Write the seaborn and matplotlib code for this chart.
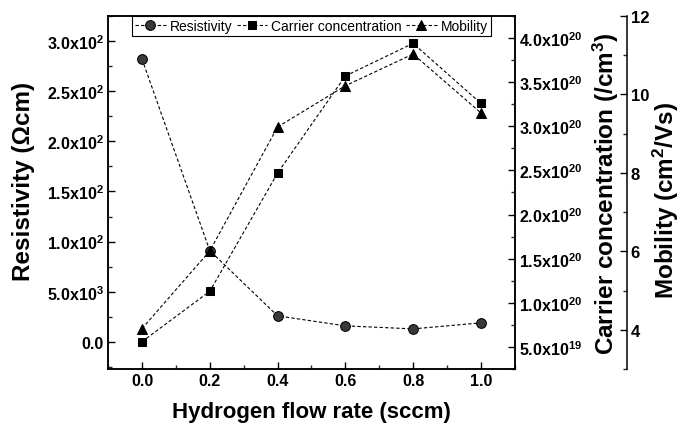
import matplotlib
matplotlib.use("Agg")
import matplotlib.pyplot as plt
import seaborn as sns
from matplotlib import font_manager
from matplotlib.ticker import MultipleLocator

# data
flow = [0.0, 0.2, 0.4, 0.6, 0.8, 1.0]
resistivity = [0.0282, 0.0091, 0.0026, 0.0016, 0.0013, 0.0019]
carrier = [0.56e20, 1.13e20, 2.47e20, 3.57e20, 3.94e20, 3.26e20]
mobility = [4.03, 6.01, 9.17, 10.22, 11.03, 9.53]

flow_ticks = [0.0, 0.2, 0.4, 0.6, 0.8, 1.0]
res_ticks = [0.0, 0.005, 0.010, 0.015, 0.020, 0.025, 0.030]
res_labels = ["0.0", "5.0x10$^{3}$", "1.0x10$^{2}$", "1.5x10$^{2}$",
              "2.0x10$^{2}$", "2.5x10$^{2}$", "3.0x10$^{2}$"]
car_ticks = [0.5e20, 1.0e20, 1.5e20, 2.0e20, 2.5e20, 3.0e20, 3.5e20, 4.0e20]
car_labels = ["5.0x10$^{19}$", "1.0x10$^{20}$", "1.5x10$^{20}$", "2.0x10$^{20}$",
              "2.5x10$^{20}$", "3.0x10$^{20}$", "3.5x10$^{20}$", "4.0x10$^{20}$"]
mob_ticks = [4, 6, 8, 10, 12]

# pick the narrowest sans font that is installed
names = {f.name for f in font_manager.fontManager.ttflist}
if "Liberation Sans Narrow" in names:
    fam, xbig, ybig, small = "Liberation Sans Narrow", 19, 20, 12
else:
    fam, xbig, ybig, small = "Liberation Sans", 16, 17.5, 11.5

sns.set_style("ticks")
plt.rcParams["font.family"] = [fam, "DejaVu Sans"]
plt.rcParams["font.weight"] = "bold"
plt.rcParams["text.color"] = "black"
plt.rcParams["axes.labelcolor"] = "black"
plt.rcParams["mathtext.fontset"] = "custom"
plt.rcParams["mathtext.rm"] = fam + ":bold"
plt.rcParams["mathtext.bf"] = fam + ":bold"
plt.rcParams["mathtext.it"] = fam + ":bold"
plt.rcParams["mathtext.default"] = "rm"

fig = plt.figure(figsize=(6.8, 4.27), dpi=100)
ax = fig.add_axes([0.159, 0.1335, 0.598, 0.8267])
ax2 = ax.twinx()
ax3 = ax.twinx()

style = dict(color="black", linestyle="--", linewidth=0.8, markeredgecolor="black")
sns.lineplot(x=flow, y=resistivity, ax=ax, marker="o", markersize=7,
             markerfacecolor="#3a3a3a", label="Resistivity", **style)
sns.lineplot(x=flow, y=carrier, ax=ax2, marker="s", markersize=6,
             markerfacecolor="black", label="Carrier concentration", **style)
sns.lineplot(x=flow, y=mobility, ax=ax3, marker="^", markersize=7.5,
             markerfacecolor="black", label="Mobility", **style)

handles = []
labels = []
for a in (ax, ax2, ax3):
    for ln in a.get_lines():
        ln.set_dashes([3, 2])
    h, l = a.get_legend_handles_labels()
    handles += h
    labels += l
    if a.get_legend() is not None:
        a.get_legend().remove()

ax.set_xlim(-0.1, 1.1)
ax.set_ylim(-0.0027, 0.0325)
ax2.set_ylim(0.25e20, 4.25e20)
ax3.set_ylim(3, 12)

ax.set_xticks(flow_ticks)
ax.set_xticklabels([f"{t:.1f}" for t in flow_ticks])
ax.xaxis.set_minor_locator(MultipleLocator(0.1))
ax.set_yticks(res_ticks)
ax.set_yticklabels(res_labels)
ax.yaxis.set_minor_locator(MultipleLocator(0.0025))
ax2.set_yticks(car_ticks)
ax2.set_yticklabels(car_labels)
ax2.yaxis.set_minor_locator(MultipleLocator(0.25e20))
ax3.set_yticks(mob_ticks)
ax3.yaxis.set_minor_locator(MultipleLocator(1))

for a in (ax, ax2, ax3):
    for s in a.spines.values():
        s.set_linewidth(1.1)
        s.set_color("black")
    a.tick_params(which="major", direction="in", length=5, width=1,
                  labelsize=small, colors="black", pad=3)
    a.tick_params(which="minor", direction="in", length=3, width=1)
ax3.tick_params(labelsize=small + 0.5)

ax.spines["top"].set_visible(True)
ax.spines["right"].set_visible(True)
ax3.spines["right"].set_position(("axes", 1.275))
for side in ("top", "left", "bottom"):
    ax3.spines[side].set_visible(False)

ax.set_xlabel("Hydrogen flow rate (sccm)", fontsize=xbig, fontweight="bold", labelpad=9)
ax.set_ylabel("Resistivity (\u03a9cm)", fontsize=ybig, fontweight="bold", labelpad=9)
ax.yaxis.label.set_y(0.535)
ax2.set_ylabel("Carrier concentration (/cm$^{3}$)", fontsize=ybig, fontweight="bold",
               labelpad=6)
ax3.set_ylabel("Mobility (cm$^{2}$/Vs)", fontsize=ybig, fontweight="bold", labelpad=1)
ax3.yaxis.label.set_y(0.48)

leg = ax.legend(handles, labels, loc="upper center", bbox_to_anchor=(0.5, 1.0),
                ncol=3, borderaxespad=0, fancybox=False, framealpha=1,
                edgecolor="black", handlelength=2.2, handletextpad=0.3,
                columnspacing=0.3, borderpad=0.2, prop={"size": 10, "weight": "normal"})
leg.get_frame().set_linewidth(0.8)

fig.savefig("out.png", dpi=100)
